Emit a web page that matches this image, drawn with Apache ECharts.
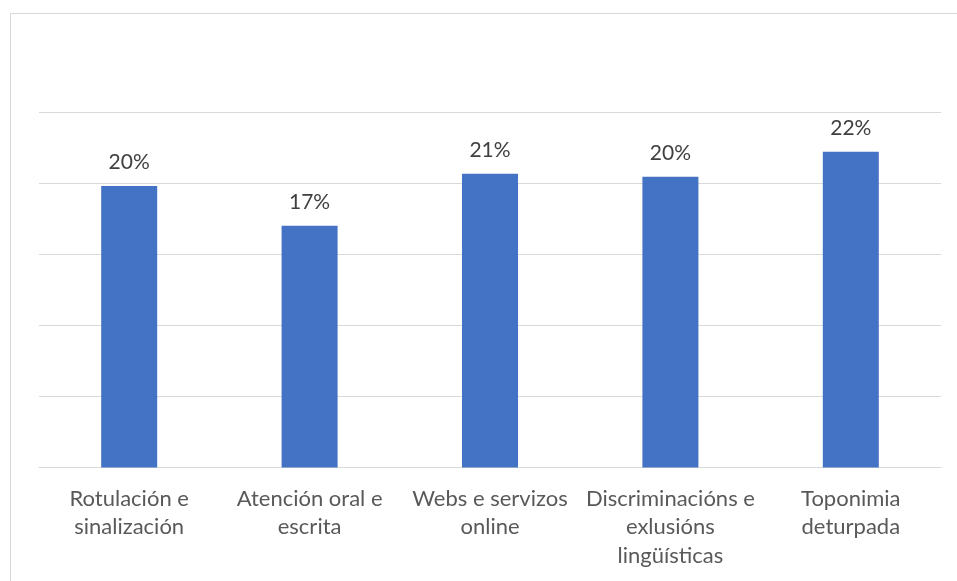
<!DOCTYPE html>
<html>
<head>
<meta charset="utf-8">
<script src="https://cdn.jsdelivr.net/npm/echarts@6/dist/echarts.min.js"></script>
<style>
html,body{margin:0;padding:0;background:#fff;}
#chart{width:957px;height:581px;position:absolute;left:0;top:0;}
#frame{position:absolute;left:10px;top:13px;width:960px;height:600px;border-left:1px solid #d9d9d9;border-top:1px solid #d9d9d9;pointer-events:none;}
</style>
</head>
<body>
<div id="chart"></div>
<div id="frame"></div>
<script>
const categories = ['Rotulación e\nsinalización', 'Atención oral e\nescrita', 'Webs e servizos\nonline', 'Discriminacións e\nexlusións\nlingüísticas', 'Toponimia\ndeturpada'];
const values = [19.8, 17.0, 20.65, 20.45, 22.2];
const yTicks = { min: 0, max: 25, interval: 5 };

const chart = echarts.init(document.getElementById('chart'));
const font = 'Lato, "Open Sans", sans-serif';
chart.setOption({
  animation: false,
  grid: { left: 39, right: 16, top: 112, bottom: 113.5, containLabel: false },
  xAxis: {
    type: 'category',
    data: categories,
    axisLine: { show: true, lineStyle: { color: '#d9d9d9', width: 1 } },
    axisTick: { show: false },
    axisLabel: {
      color: '#595959', fontFamily: font, fontSize: 22, lineHeight: 28.5,
      margin: 17, interval: 0
    }
  },
  yAxis: {
    type: 'value',
    min: yTicks.min, max: yTicks.max, interval: yTicks.interval,
    axisLabel: { show: false },
    axisLine: { show: false },
    axisTick: { show: false },
    splitLine: { lineStyle: { color: '#d9d9d9', width: 1 } }
  },
  series: [{
    type: 'bar',
    data: values,
    barWidth: 56,
    itemStyle: { color: '#4472C4' },
    label: {
      show: true, position: 'top', distance: 13,
      color: '#404040', fontFamily: font, fontSize: 21,
      formatter: p => Math.round(p.value) + '%'
    }
  }]
});
</script>
</body>
</html>
